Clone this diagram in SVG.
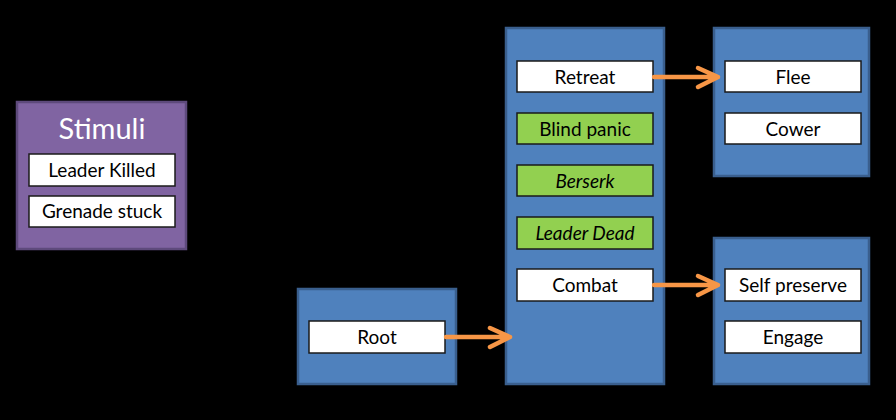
<svg xmlns="http://www.w3.org/2000/svg" width="896" height="420" viewBox="0 0 896 420">
<defs>
<style>
.grp{fill:#4F81BD;stroke:#3A5F8E;stroke-width:2.5}
.stim{fill:#8064A2;stroke:#5E4A7C;stroke-width:2.5}
.item{fill:#FFFFFF;stroke:#1A1A1A;stroke-width:1.5}
.cond{fill:#92D050;stroke:#1A1A1A;stroke-width:1.5}
text{font-family:Lato,"Liberation Sans",sans-serif;font-size:19px;fill:#000;text-anchor:middle}
.it{font-style:italic}
.title{font-size:29px;fill:#FFFFFF}
.conn{stroke:#F79646;stroke-width:4.5;fill:none;stroke-linecap:round;stroke-linejoin:round}
</style>
</defs>
<rect width="896" height="420" fill="#000"/>
<g id="stimuli">
<rect class="stim" x="17" y="102" width="169" height="147"/>
<text class="title" x="102" y="139">Stimuli</text>
<rect class="item" x="29" y="154" width="146" height="32"/>
<text x="102" y="177">Leader Killed</text>
<rect class="item" x="29" y="196" width="146" height="31"/>
<text x="102" y="218">Grenade stuck</text>
</g>
<g id="root">
<rect class="grp" x="298" y="289" width="158" height="95"/>
<rect class="item" x="309" y="321" width="136" height="32"/>
<text x="377" y="344">Root</text>
</g>
<g id="middle">
<rect class="grp" x="506" y="28" width="158" height="356"/>
<rect class="item" x="517" y="61" width="136" height="31"/>
<text x="585" y="84">Retreat</text>
<rect class="cond" x="517" y="113" width="136" height="31"/>
<text x="585" y="136">Blind panic</text>
<rect class="cond" x="517" y="165" width="136" height="31"/>
<text class="it" x="585" y="188">Berserk</text>
<rect class="cond" x="517" y="217" width="136" height="32"/>
<text class="it" x="585" y="240">Leader Dead</text>
<rect class="item" x="517" y="269" width="136" height="32"/>
<text x="585" y="292">Combat</text>
</g>
<g id="retreat-options">
<rect class="grp" x="714" y="28" width="155" height="148"/>
<rect class="item" x="725" y="61" width="136" height="31"/>
<text x="793" y="84">Flee</text>
<rect class="item" x="725" y="113" width="136" height="31"/>
<text x="793" y="136">Cower</text>
</g>
<g id="combat-options">
<rect class="grp" x="714" y="238" width="155" height="146"/>
<rect class="item" x="725" y="269" width="136" height="32"/>
<text x="793" y="292">Self preserve</text>
<rect class="item" x="725" y="321" width="136" height="32"/>
<text x="793" y="344">Engage</text>
</g>
<g id="connectors">
<path class="conn" d="M654 77 H718 M698 68 L718 77 L698 87"/>
<path class="conn" d="M654 285 H718 M698 276 L718 285 L698 295"/>
<path class="conn" d="M446 337 H510 M490 328 L510 337 L490 347"/>
</g>
</svg>
